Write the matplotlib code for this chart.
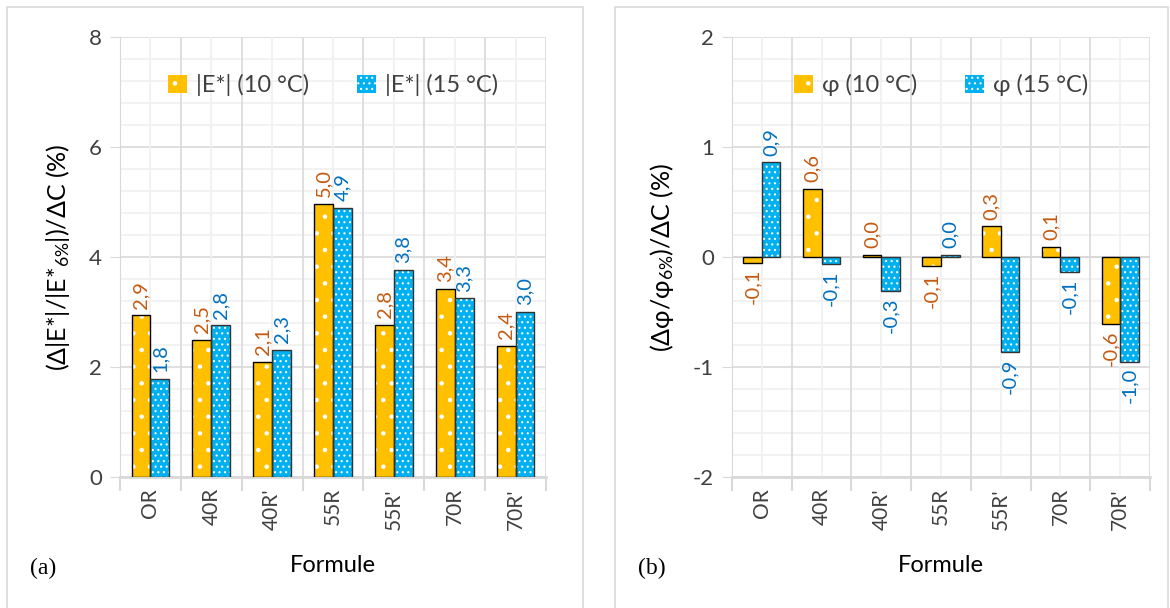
import numpy as np
import matplotlib.pyplot as plt
from matplotlib.patches import Rectangle
from matplotlib.ticker import MultipleLocator

plt.rcParams['font.family'] = ['Lato', 'Noto Sans', 'DejaVu Sans']
plt.rcParams['mathtext.fontset'] = 'custom'
plt.rcParams['mathtext.rm'] = 'Lato'
plt.rcParams['mathtext.it'] = 'Lato'
plt.rcParams['axes.unicode_minus'] = False
plt.rcParams['hatch.linewidth'] = 0.8

categories = ["OR", "40R", "40R'", "55R", "55R'", "70R", "70R'"]

# panel (a)
e10 = [2.94, 2.50, 2.09, 4.97, 2.77, 3.42, 2.39]
e15 = [1.78, 2.76, 2.31, 4.90, 3.77, 3.25, 3.00]
e10_lab = ["2,9", "2,5", "2,1", "5,0", "2,8", "3,4", "2,4"]
e15_lab = ["1,8", "2,8", "2,3", "4,9", "3,8", "3,3", "3,0"]

# panel (b)
p10 = [-0.05, 0.62, 0.02, -0.08, 0.28, 0.09, -0.61]
p15 = [0.86, -0.06, -0.31, 0.02, -0.86, -0.14, -0.95]
p10_lab = ["-0,1", "0,6", "0,0", "-0,1", "0,3", "0,1", "-0,6"]
p15_lab = ["0,9", "-0,1", "-0,3", "0,0", "-0,9", "-0,1", "-1,0"]

yellow = "#FFC000"
blue = "#00B0F0"
orange_txt = "#C55A11"
blue_txt = "#0070C0"
grid_major = "#D9D9D9"
grid_minor = "#F0F0F0"
txt = "#404040"

fig = plt.figure(figsize=(11.7, 6.08), dpi=100)

# panel frames
for x0, x1 in [(7, 583), (615, 1168)]:
    fig.patches.append(Rectangle((x0 / 1170, -0.01), (x1 - x0) / 1170, 1 - 7 / 608 + 0.01,
                                 transform=fig.transFigure, fill=False,
                                 edgecolor=grid_major, lw=1.2))


def bars(ax, v10, v15, l10, l15, lab10, lab15, off):
    x = np.arange(len(categories))
    w = 0.31
    ax.bar(x - w / 2, v10, w, color=yellow, hatch='.', edgecolor='white', lw=0,
           zorder=3, label=lab10)
    ax.bar(x + w / 2, v15, w, color=blue, hatch='...', edgecolor='white', lw=0,
           zorder=3, label=lab15)
    ax.bar(x - w / 2, v10, w, fill=False, edgecolor='black', lw=1.0, zorder=4)
    ax.bar(x + w / 2, v15, w, fill=False, edgecolor='#333333', lw=1.0, zorder=4)
    for xi, v, s in zip(x - w / 2, v10, l10):
        ax.text(xi, v + (off if v >= 0 else -off), s, rotation=90, ha='center',
                va='bottom' if v >= 0 else 'top', color=orange_txt, fontsize=14.5)
    for xi, v, s in zip(x + w / 2, v15, l15):
        ax.text(xi, v + (off if v >= 0 else -off), s, rotation=90, ha='center',
                va='bottom' if v >= 0 else 'top', color=blue_txt, fontsize=14.5)


def style(ax, ylo, yhi, major, minor, ylabel):
    ax.set_xlim(-0.5, len(categories) - 0.5)
    ax.set_ylim(ylo, yhi)
    ax.yaxis.set_major_locator(MultipleLocator(major))
    ax.yaxis.set_minor_locator(MultipleLocator(minor))
    ax.set_xticks(np.arange(len(categories)))
    ax.set_xticklabels(categories, rotation=90, fontsize=15, color=txt)
    ax.set_xticks(np.arange(len(categories) + 1) - 0.5, minor=True)
    ax.tick_params(axis='x', which='major', length=0, pad=8)
    ax.tick_params(axis='x', which='minor', length=10, color=grid_major, width=1.5)
    ax.tick_params(axis='y', which='major', length=7, color=grid_major,
                   labelsize=16, labelcolor=txt, pad=6)
    ax.tick_params(axis='y', which='minor', length=0)
    ax.grid(True, axis='y', which='major', color=grid_major, lw=1.2, zorder=0)
    ax.grid(True, axis='y', which='minor', color=grid_minor, lw=1.2, zorder=0)
    for xv in np.arange(len(categories) + 1) - 0.5:
        ax.axvline(xv, color=grid_major, lw=1.2, zorder=1)
    for xv in np.arange(len(categories)):
        ax.axvline(xv, color=grid_minor, lw=1.2, zorder=1)
    ax.set_axisbelow(True)
    for s in ['top', 'right']:
        ax.spines[s].set_visible(False)
    ax.spines['left'].set_color(grid_major)
    ax.spines['bottom'].set_color(grid_major)
    ax.spines['bottom'].set_linewidth(2)
    ax.set_xlabel("Formule", fontsize=17, color='black', labelpad=18)
    ax.set_ylabel(ylabel, fontsize=18, color='black', labelpad=12)
    ax.legend(loc='upper center', bbox_to_anchor=(0.5, 0.965), ncol=2, frameon=False,
              fontsize=17, handlelength=0.8, handleheight=0.8, columnspacing=2.0,
              handletextpad=0.4, labelcolor=txt)


ax1 = fig.add_axes([120 / 1170, 1 - 477 / 608, 426 / 1170, 440 / 608])
bars(ax1, e10, e15, e10_lab, e15_lab, "|E*| (10 °C)", "|E*| (15 °C)", 0.12)
style(ax1, 0, 8, 2, 0.4, r"(Δ|E*|/|E*$_{6\%}$|)/ΔC (%)")

ax2 = fig.add_axes([732 / 1170, 1 - 477 / 608, 418 / 1170, 440 / 608])
bars(ax2, p10, p15, p10_lab, p15_lab, "φ (10 °C)", "φ (15 °C)", 0.06)
style(ax2, -2, 2, 1, 0.2, r"(Δφ/φ$_{6\%}$)/ΔC (%)")
ax2.axhline(0, color=grid_major, lw=1.5, zorder=2)

fig.text(30 / 1170, 1 - 568 / 608, "(a)", family='Liberation Serif', fontsize=17, va='center')
fig.text(638 / 1170, 1 - 568 / 608, "(b)", family='Liberation Serif', fontsize=17, va='center')

fig.savefig("out.png", dpi=100)
